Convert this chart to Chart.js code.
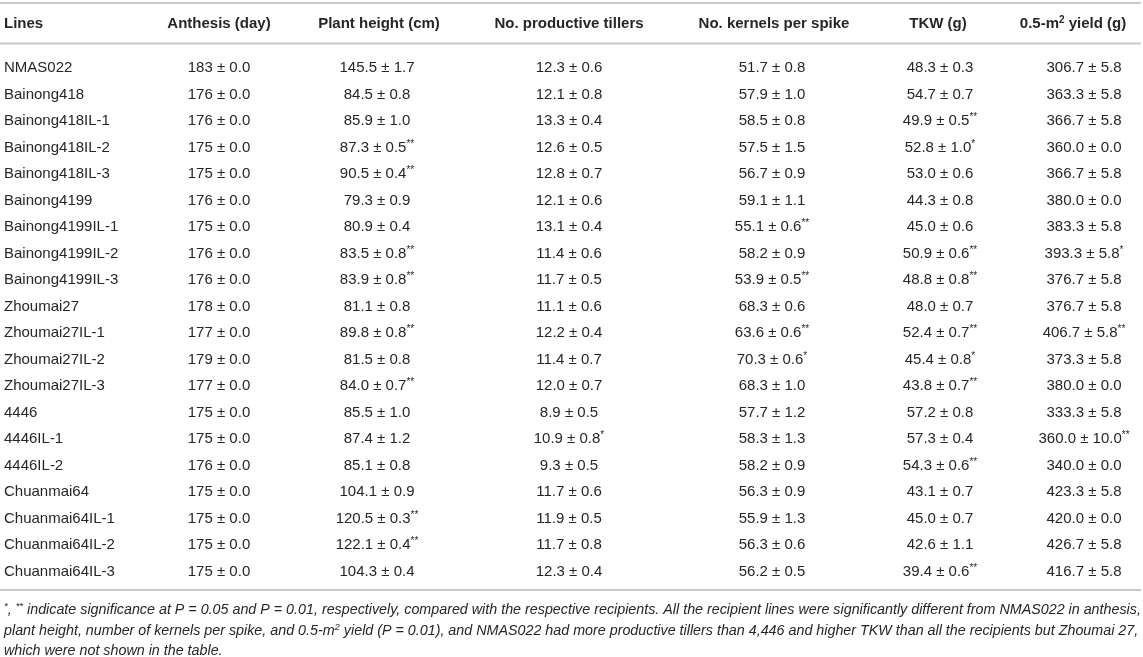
<!DOCTYPE html>
<html>
<head>
<meta charset="utf-8">
<title>Lines table</title>
<script src="https://cdn.jsdelivr.net/npm/chart.js@4.4.1/dist/chart.umd.min.js"></script>
<style>
    html, body { margin: 0; padding: 0; background: #fff; }
</style>
</head>
<body>
<canvas id="tableChart" width="1143" height="657"></canvas>
<script>
// table data
var lines = ['NMAS022', 'Bainong418', 'Bainong418IL-1', 'Bainong418IL-2', 'Bainong418IL-3',
    'Bainong4199', 'Bainong4199IL-1', 'Bainong4199IL-2', 'Bainong4199IL-3', 'Zhoumai27',
    'Zhoumai27IL-1', 'Zhoumai27IL-2', 'Zhoumai27IL-3', '4446', '4446IL-1', '4446IL-2',
    'Chuanmai64', 'Chuanmai64IL-1', 'Chuanmai64IL-2', 'Chuanmai64IL-3'];

var headers = ['Lines', 'Anthesis (day)', 'Plant height (cm)', 'No. productive tillers',
    'No. kernels per spike', 'TKW (g)', '0.5-m² yield (g)'];

var anthesis    = [183, 176, 176, 175, 175, 176, 175, 176, 176, 178, 177, 179, 177, 175, 175, 176, 175, 175, 175, 175];
var anthesisSd  = [0.0, 0.0, 0.0, 0.0, 0.0, 0.0, 0.0, 0.0, 0.0, 0.0, 0.0, 0.0, 0.0, 0.0, 0.0, 0.0, 0.0, 0.0, 0.0, 0.0];
var anthesisSig = ['', '', '', '', '', '', '', '', '', '', '', '', '', '', '', '', '', '', '', ''];

var height    = [145.5, 84.5, 85.9, 87.3, 90.5, 79.3, 80.9, 83.5, 83.9, 81.1, 89.8, 81.5, 84.0, 85.5, 87.4, 85.1, 104.1, 120.5, 122.1, 104.3];
var heightSd  = [1.7, 0.8, 1.0, 0.5, 0.4, 0.9, 0.4, 0.8, 0.8, 0.8, 0.8, 0.8, 0.7, 1.0, 1.2, 0.8, 0.9, 0.3, 0.4, 0.4];
var heightSig = ['', '', '', '**', '**', '', '', '**', '**', '', '**', '', '**', '', '', '', '', '**', '**', ''];

var tillers    = [12.3, 12.1, 13.3, 12.6, 12.8, 12.1, 13.1, 11.4, 11.7, 11.1, 12.2, 11.4, 12.0, 8.9, 10.9, 9.3, 11.7, 11.9, 11.7, 12.3];
var tillersSd  = [0.6, 0.8, 0.4, 0.5, 0.7, 0.6, 0.4, 0.6, 0.5, 0.6, 0.4, 0.7, 0.7, 0.5, 0.8, 0.5, 0.6, 0.5, 0.8, 0.4];
var tillersSig = ['', '', '', '', '', '', '', '', '', '', '', '', '', '', '*', '', '', '', '', ''];

var kernels    = [51.7, 57.9, 58.5, 57.5, 56.7, 59.1, 55.1, 58.2, 53.9, 68.3, 63.6, 70.3, 68.3, 57.7, 58.3, 58.2, 56.3, 55.9, 56.3, 56.2];
var kernelsSd  = [0.8, 1.0, 0.8, 1.5, 0.9, 1.1, 0.6, 0.9, 0.5, 0.6, 0.6, 0.6, 1.0, 1.2, 1.3, 0.9, 0.9, 1.3, 0.6, 0.5];
var kernelsSig = ['', '', '', '', '', '', '**', '', '**', '', '**', '*', '', '', '', '', '', '', '', ''];

var tkw    = [48.3, 54.7, 49.9, 52.8, 53.0, 44.3, 45.0, 50.9, 48.8, 48.0, 52.4, 45.4, 43.8, 57.2, 57.3, 54.3, 43.1, 45.0, 42.6, 39.4];
var tkwSd  = [0.3, 0.7, 0.5, 1.0, 0.6, 0.8, 0.6, 0.6, 0.8, 0.7, 0.7, 0.8, 0.7, 0.8, 0.4, 0.6, 0.7, 0.7, 1.1, 0.6];
var tkwSig = ['', '', '**', '*', '', '', '', '**', '**', '', '**', '*', '**', '', '', '**', '', '', '', '**'];

var yieldG    = [306.7, 363.3, 366.7, 360.0, 366.7, 380.0, 383.3, 393.3, 376.7, 376.7, 406.7, 373.3, 380.0, 333.3, 360.0, 340.0, 423.3, 420.0, 426.7, 416.7];
var yieldSd   = [5.8, 5.8, 5.8, 0.0, 5.8, 0.0, 5.8, 5.8, 5.8, 5.8, 5.8, 5.8, 0.0, 5.8, 10.0, 0.0, 5.8, 0.0, 5.8, 5.8];
var yieldSig  = ['', '', '', '', '', '', '', '*', '', '', '**', '', '', '', '**', '', '', '', '', ''];

var footnote = [
    '*, ** indicate significance at P = 0.05 and P = 0.01, respectively, compared with the respective recipients. All the recipient lines were significantly different from NMAS022 in anthesis,',
    'plant height, number of kernels per spike, and 0.5-m² yield (P = 0.01), and NMAS022 had more productive tillers than 4,446 and higher TKW than all the recipients but Zhoumai 27,',
    'which were not shown in the table.'
];

// columns built from the arrays above
var columns = [
    { mean: anthesis, sd: anthesisSd, sig: anthesisSig, dec: 0 },
    { mean: height, sd: heightSd, sig: heightSig, dec: 1 },
    { mean: tillers, sd: tillersSd, sig: tillersSig, dec: 1 },
    { mean: kernels, sd: kernelsSd, sig: kernelsSig, dec: 1 },
    { mean: tkw, sd: tkwSd, sig: tkwSig, dec: 1 },
    { mean: yieldG, sd: yieldSd, sig: yieldSig, dec: 1 }
];

// layout (pixels on a 0..1143 x scale)
var cellX = [4, 219, 377, 569, 772, 940, 1084];
var headX = [4, 219, 379, 569, 774, 938, 1073];
var headerY = 23;
var ruleY = [3, 43.5, 590];
var footY = [609, 629.5, 650];

var family = '"Liberation Sans", Arial, Helvetica, sans-serif';
var textColor = '#262626';

function cellText(c, r) {
    if (c === 0) return lines[r];
    var col = columns[c - 1];
    return col.mean[r].toFixed(col.dec) + ' \u00b1 ' + col.sd[r].toFixed(1) + col.sig[r];
}

// '*' and '²' are drawn as superscripts
function splitRich(text) {
    var segs = [];
    for (var i = 0; i < text.length; i++) {
        var ch = text[i];
        var sup = ch === '*' || ch === '\u00b2';
        if (ch === '\u00b2') ch = '2';
        var last = segs[segs.length - 1];
        if (last && last.sup === sup) last.t += ch;
        else segs.push({ t: ch, sup: sup });
    }
    return segs;
}

function drawRich(ctx, text, x, y, align, font, supFont) {
    var segs = splitRich(text);
    var total = 0;
    segs.forEach(function (s) {
        ctx.font = s.sup ? supFont : font;
        s.w = ctx.measureText(s.t).width;
        total += s.w;
    });
    var cx = align === 'left' ? x : x - total / 2;
    ctx.textAlign = 'left';
    ctx.textBaseline = 'alphabetic';
    segs.forEach(function (s) {
        ctx.font = s.sup ? supFont : font;
        ctx.fillText(s.t, cx, s.sup ? y : y + 5);
        cx += s.w;
    });
}

var tablePlugin = {
    id: 'tableText',
    afterDatasetsDraw: function (chart) {
        var ctx = chart.ctx;
        var xs = chart.scales.x;
        ctx.save();

        ctx.strokeStyle = '#c8c8c8';
        ctx.lineWidth = 2;
        ruleY.forEach(function (y) {
            ctx.beginPath();
            ctx.moveTo(xs.getPixelForValue(0), y);
            ctx.lineTo(xs.getPixelForValue(1141), y);
            ctx.stroke();
        });

        ctx.fillStyle = textColor;
        headers.forEach(function (h, i) {
            drawRich(ctx, h, xs.getPixelForValue(headX[i]), headerY, i === 0 ? 'left' : 'center',
                'bold 15px ' + family, 'bold 10px ' + family);
        });

        chart.data.datasets.forEach(function (ds, c) {
            chart.getDatasetMeta(c).data.forEach(function (pt, r) {
                drawRich(ctx, cellText(c, r), pt.x, pt.y, c === 0 ? 'left' : 'center',
                    '15px ' + family, '10px ' + family);
            });
        });

        footnote.forEach(function (t, i) {
            drawRich(ctx, t, xs.getPixelForValue(4), footY[i], 'left',
                'italic 14.3px ' + family, 'italic 9.5px ' + family);
        });
        ctx.restore();
    }
};

var datasets = cellX.map(function (cx, c) {
    return {
        label: headers[c],
        data: lines.map(function (name) { return { x: cx, y: name }; }),
        pointRadius: 0,
        showLine: false
    };
});

new Chart(document.getElementById('tableChart').getContext('2d'), {
    type: 'scatter',
    data: { datasets: datasets },
    options: {
        responsive: false,
        animation: false,
        events: [],
        layout: { padding: { top: 67, bottom: 86.5, left: 0, right: 0 } },
        scales: {
            x: { type: 'linear', min: 0, max: 1143, display: false },
            y: { type: 'category', labels: lines, offset: false, display: false }
        },
        plugins: {
            legend: { display: false },
            tooltip: { enabled: false }
        }
    },
    plugins: [tablePlugin]
});
</script>
</body>
</html>
